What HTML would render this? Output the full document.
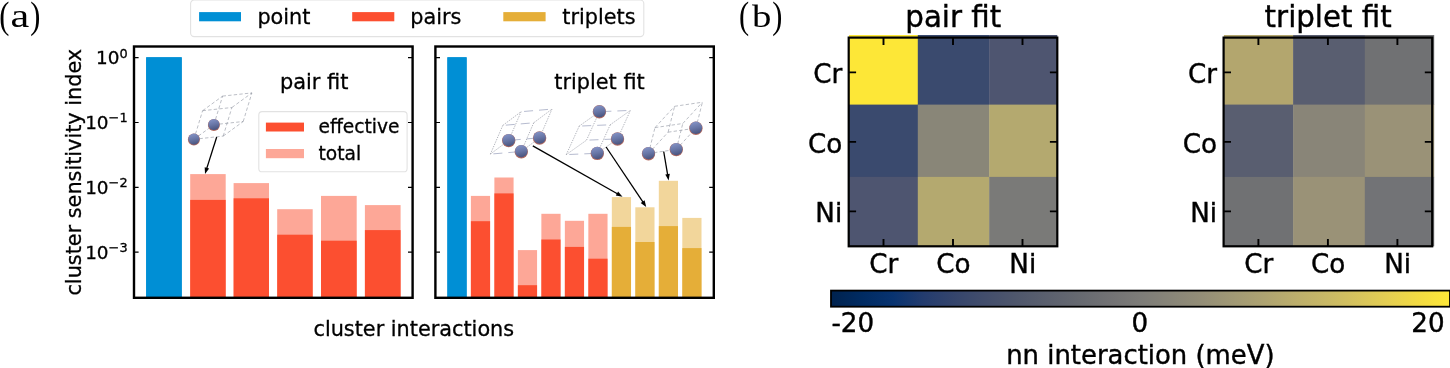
<!DOCTYPE html>
<html><head><meta charset="utf-8"><title>figure</title>
<style>html,body{margin:0;padding:0;background:#fff}svg{display:block}text{font-family:"DejaVu Sans", "Liberation Sans", sans-serif;fill:#000;stroke:#000;stroke-width:0.3px}.hb{stroke-width:0.4px}.sf{stroke:none}</style>
</head><body>
<svg width="1450" height="368" viewBox="0 0 1450 368">
<defs>
<linearGradient id="sg" x1="0.35" y1="0" x2="0.6" y2="1"><stop offset="0" stop-color="#8493c6"/><stop offset="0.5" stop-color="#6876a6"/><stop offset="1" stop-color="#48527c"/></linearGradient>
<linearGradient id="civ" x1="0" x2="1" y1="0" y2="0">
<stop offset="0.00" stop-color="rgb(0, 34, 78)"/>
<stop offset="0.05" stop-color="rgb(0, 43, 98)"/>
<stop offset="0.10" stop-color="rgb(8, 51, 112)"/>
<stop offset="0.15" stop-color="rgb(36, 60, 110)"/>
<stop offset="0.20" stop-color="rgb(53, 69, 108)"/>
<stop offset="0.25" stop-color="rgb(67, 78, 108)"/>
<stop offset="0.30" stop-color="rgb(79, 87, 108)"/>
<stop offset="0.35" stop-color="rgb(91, 96, 110)"/>
<stop offset="0.40" stop-color="rgb(102, 105, 112)"/>
<stop offset="0.45" stop-color="rgb(114, 114, 116)"/>
<stop offset="0.50" stop-color="rgb(125, 124, 120)"/>
<stop offset="0.55" stop-color="rgb(136, 133, 120)"/>
<stop offset="0.60" stop-color="rgb(148, 142, 119)"/>
<stop offset="0.65" stop-color="rgb(161, 153, 117)"/>
<stop offset="0.70" stop-color="rgb(174, 163, 113)"/>
<stop offset="0.75" stop-color="rgb(188, 174, 108)"/>
<stop offset="0.80" stop-color="rgb(200, 184, 102)"/>
<stop offset="0.85" stop-color="rgb(214, 195, 93)"/>
<stop offset="0.90" stop-color="rgb(229, 207, 82)"/>
<stop offset="0.95" stop-color="rgb(243, 219, 66)"/>
<stop offset="1.00" stop-color="rgb(254, 232, 56)"/>
</linearGradient></defs>
<rect width="1450" height="368" fill="#fff"/>
<text transform="translate(-0.63 27.9) scale(0.8 1)" x="0" y="0" font-size="38" class="sf" style="font-family:'Liberation Serif', 'DejaVu Serif', serif">(</text>
<text transform="translate(10.6 27.2) scale(1.27 1)" x="0" y="0" font-size="33.2" class="sf" style="font-family:'Liberation Serif', 'DejaVu Serif', serif">a</text>
<text transform="translate(30.2 27.9) scale(0.8 1)" x="0" y="0" font-size="38" class="sf" style="font-family:'Liberation Serif', 'DejaVu Serif', serif">)</text>
<text transform="translate(739.0 28.1) scale(0.8 1)" x="0" y="0" font-size="38" class="sf" style="font-family:'Liberation Serif', 'DejaVu Serif', serif">(</text>
<text transform="translate(752.0 27.2) scale(1.226 1)" x="0" y="0" font-size="31.6" class="sf" style="font-family:'Liberation Serif', 'DejaVu Serif', serif">b</text>
<text transform="translate(772.2 28.1) scale(0.8 1)" x="0" y="0" font-size="38" class="sf" style="font-family:'Liberation Serif', 'DejaVu Serif', serif">)</text>
<rect x="146.20" y="57.30" width="35.50" height="240.50" fill="#008fd5" />
<rect x="146.20" y="57.30" width="35.50" height="240.50" fill="#008fd5" />
<rect x="190.20" y="174.10" width="35.50" height="123.70" fill="#fda797" />
<rect x="190.20" y="199.90" width="35.50" height="97.90" fill="#fc4f30" />
<rect x="233.60" y="183.10" width="35.40" height="114.70" fill="#fda797" />
<rect x="233.60" y="198.30" width="35.40" height="99.50" fill="#fc4f30" />
<rect x="277.20" y="209.20" width="35.50" height="88.60" fill="#fda797" />
<rect x="277.20" y="234.70" width="35.50" height="63.10" fill="#fc4f30" />
<rect x="321.00" y="195.90" width="35.70" height="101.90" fill="#fda797" />
<rect x="321.00" y="240.70" width="35.70" height="57.10" fill="#fc4f30" />
<rect x="364.90" y="205.10" width="35.70" height="92.70" fill="#fda797" />
<rect x="364.90" y="230.10" width="35.70" height="67.70" fill="#fc4f30" />
<rect x="447.40" y="57.30" width="19.20" height="240.50" fill="#008fd5" />
<rect x="447.40" y="57.30" width="19.20" height="240.50" fill="#008fd5" />
<rect x="470.89" y="195.90" width="19.20" height="101.90" fill="#fda797" />
<rect x="470.89" y="221.20" width="19.20" height="76.60" fill="#fc4f30" />
<rect x="494.38" y="177.50" width="19.20" height="120.30" fill="#fda797" />
<rect x="494.38" y="193.40" width="19.20" height="104.40" fill="#fc4f30" />
<rect x="517.87" y="250.10" width="19.20" height="47.70" fill="#fda797" />
<rect x="517.87" y="285.20" width="19.20" height="12.60" fill="#fc4f30" />
<rect x="541.36" y="213.80" width="19.20" height="84.00" fill="#fda797" />
<rect x="541.36" y="239.50" width="19.20" height="58.30" fill="#fc4f30" />
<rect x="564.85" y="220.80" width="19.20" height="77.00" fill="#fda797" />
<rect x="564.85" y="246.90" width="19.20" height="50.90" fill="#fc4f30" />
<rect x="588.34" y="213.80" width="19.20" height="84.00" fill="#fda797" />
<rect x="588.34" y="258.70" width="19.20" height="39.10" fill="#fc4f30" />
<rect x="611.83" y="197.10" width="19.20" height="100.70" fill="#f2d69b" />
<rect x="611.83" y="226.90" width="19.20" height="70.90" fill="#e5ae38" />
<rect x="635.32" y="207.30" width="19.20" height="90.50" fill="#f2d69b" />
<rect x="635.32" y="242.00" width="19.20" height="55.80" fill="#e5ae38" />
<rect x="658.81" y="180.80" width="19.20" height="117.00" fill="#f2d69b" />
<rect x="658.81" y="226.10" width="19.20" height="71.70" fill="#e5ae38" />
<rect x="682.30" y="217.90" width="19.20" height="79.90" fill="#f2d69b" />
<rect x="682.30" y="248.10" width="19.20" height="49.70" fill="#e5ae38" />
<path d="M193.9 139.3L202.6 110.7M193.9 139.3L213.9 124.7M213.9 124.7L222.6 96.1M202.6 110.7L222.6 96.1M223.2 136.1L231.9 107.5M223.2 136.1L243.2 121.5M243.2 121.5L251.9 92.9M231.9 107.5L251.9 92.9M193.9 139.3L223.2 136.1M213.9 124.7L243.2 121.5M202.6 110.7L231.9 107.5M222.6 96.1L251.9 92.9" stroke="#6f7484" stroke-width="0.55" stroke-dasharray="3.4 2.2" fill="none" opacity="0.85"/>
<circle cx="193.9" cy="139.5" r="6.0" fill="#b26a60"/>
<circle cx="193.9" cy="139.1" r="5.6" fill="url(#sg)"/>
<circle cx="213.9" cy="124.9" r="6.0" fill="#b26a60"/>
<circle cx="213.9" cy="124.5" r="5.6" fill="url(#sg)"/>
<path d="M490.4 154.1L502.8 125.4M490.4 154.1L508.7 140.4M508.7 140.4L521.1 111.7M502.8 125.4L521.1 111.7M521.3 151.5L533.7 122.8M521.3 151.5L539.6 137.8M539.6 137.8L552.0 109.1M533.7 122.8L552.0 109.1" stroke="#5d6172" stroke-width="0.55" stroke-dasharray="1.3 1.2" fill="none" opacity="0.9"/>
<path d="M490.4 154.1L521.3 151.5M508.7 140.4L539.6 137.8M502.8 125.4L533.7 122.8M521.1 111.7L552.0 109.1" stroke="#8a93b2" stroke-width="0.7" stroke-dasharray="9 6" stroke-dashoffset="-3" fill="none" opacity="0.9"/>
<circle cx="508.7" cy="140.6" r="6.7" fill="#b26a60"/>
<circle cx="508.7" cy="140.2" r="6.2" fill="url(#sg)"/>
<circle cx="539.6" cy="138.0" r="6.7" fill="#b26a60"/>
<circle cx="539.6" cy="137.6" r="6.2" fill="url(#sg)"/>
<circle cx="521.3" cy="151.7" r="6.7" fill="#b26a60"/>
<circle cx="521.3" cy="151.2" r="6.2" fill="url(#sg)"/>
<path d="M566.3 154.6L579.2 126.1M566.3 154.6L586.5 140.2M586.5 140.2L599.4 111.7M579.2 126.1L599.4 111.7M597.3 153.3L610.2 124.8M597.3 153.3L617.5 138.9M617.5 138.9L630.4 110.4M610.2 124.8L630.4 110.4" stroke="#5d6172" stroke-width="0.55" stroke-dasharray="1.3 1.2" fill="none" opacity="0.9"/>
<path d="M566.3 154.6L597.3 153.3M586.5 140.2L617.5 138.9M579.2 126.1L610.2 124.8M599.4 111.7L630.4 110.4" stroke="#8a93b2" stroke-width="0.7" stroke-dasharray="9 6" stroke-dashoffset="-3" fill="none" opacity="0.9"/>
<circle cx="599.4" cy="111.8" r="6.7" fill="#b26a60"/>
<circle cx="599.4" cy="111.4" r="6.2" fill="url(#sg)"/>
<circle cx="617.5" cy="139.0" r="6.7" fill="#b26a60"/>
<circle cx="617.5" cy="138.6" r="6.2" fill="url(#sg)"/>
<circle cx="597.3" cy="153.4" r="6.7" fill="#b26a60"/>
<circle cx="597.3" cy="153.0" r="6.2" fill="url(#sg)"/>
<path d="M648.5 153.5L655.0 127.6M648.5 153.5L668.1 132.2M668.1 132.2L674.6 106.3M655.0 127.6L674.6 106.3M676.3 149.4L682.8 123.5M676.3 149.4L695.9 128.1M695.9 128.1L702.4 102.2M682.8 123.5L702.4 102.2M648.5 153.5L676.3 149.4M668.1 132.2L695.9 128.1M655.0 127.6L682.8 123.5M674.6 106.3L702.4 102.2" stroke="#6f7484" stroke-width="0.55" stroke-dasharray="3.4 2.2" fill="none" opacity="0.85"/>
<circle cx="695.9" cy="128.2" r="6.7" fill="#b26a60"/>
<circle cx="695.9" cy="127.8" r="6.2" fill="url(#sg)"/>
<circle cx="676.3" cy="149.6" r="6.7" fill="#b26a60"/>
<circle cx="676.3" cy="149.2" r="6.2" fill="url(#sg)"/>
<circle cx="648.5" cy="153.7" r="6.7" fill="#b26a60"/>
<circle cx="648.5" cy="153.2" r="6.2" fill="url(#sg)"/>
<line x1="216.7" y1="137.0" x2="206.6" y2="168.9" stroke="#000" stroke-width="1.3"/>
<polygon points="205.0,174.0 204.7,167.2 209.1,168.6" fill="#000"/>
<line x1="532.8" y1="145.9" x2="617.8" y2="194.0" stroke="#000" stroke-width="1.3"/>
<polygon points="622.5,196.7 615.8,195.5 618.1,191.5" fill="#000"/>
<line x1="606.1" y1="147.0" x2="643.2" y2="202.4" stroke="#000" stroke-width="1.3"/>
<polygon points="646.2,206.9 640.7,202.9 644.6,200.3" fill="#000"/>
<line x1="663.7" y1="151.5" x2="667.7" y2="175.1" stroke="#000" stroke-width="1.3"/>
<polygon points="668.6,180.4 665.3,174.5 669.8,173.7" fill="#000"/>
<rect x="134.0" y="46.5" width="278.60" height="251.30" fill="none" stroke="#000" stroke-width="2.4"/>
<path d="M134.0 57.7h4.6M412.6 57.7h-4.6" stroke="#000" stroke-width="1.2" fill="none"/>
<path d="M134.0 122.5h4.6M412.6 122.5h-4.6" stroke="#000" stroke-width="1.2" fill="none"/>
<path d="M134.0 187.3h4.6M412.6 187.3h-4.6" stroke="#000" stroke-width="1.2" fill="none"/>
<path d="M134.0 252.1h4.6M412.6 252.1h-4.6" stroke="#000" stroke-width="1.2" fill="none"/>
<rect x="435.4" y="46.5" width="278.40" height="251.30" fill="none" stroke="#000" stroke-width="2.4"/>
<path d="M435.4 57.7h4.6M713.8 57.7h-4.6" stroke="#000" stroke-width="1.2" fill="none"/>
<path d="M435.4 122.5h4.6M713.8 122.5h-4.6" stroke="#000" stroke-width="1.2" fill="none"/>
<path d="M435.4 187.3h4.6M713.8 187.3h-4.6" stroke="#000" stroke-width="1.2" fill="none"/>
<path d="M435.4 252.1h4.6M713.8 252.1h-4.6" stroke="#000" stroke-width="1.2" fill="none"/>
<text x="127.6" y="64.1" font-size="18.4" text-anchor="end">10<tspan font-size="12.9" dy="-6.6">0</tspan></text>
<text x="127.6" y="128.9" font-size="18.4" text-anchor="end">10<tspan font-size="12.9" dy="-6.6">−1</tspan></text>
<text x="127.6" y="193.7" font-size="18.4" text-anchor="end">10<tspan font-size="12.9" dy="-6.6">−2</tspan></text>
<text x="127.6" y="258.5" font-size="18.4" text-anchor="end">10<tspan font-size="12.9" dy="-6.6">−3</tspan></text>
<text transform="translate(80.6 172.2) rotate(-90)" font-size="20.8" text-anchor="middle">cluster sensitivity index</text>
<text x="413.8" y="335.6" font-size="20.8" text-anchor="middle">cluster interactions</text>
<text x="314.2" y="89.4" font-size="20.9" text-anchor="middle">pair fit</text>
<text x="599.5" y="89.4" font-size="20.8" text-anchor="middle">triplet fit</text>
<rect x="190.6" y="0.0" width="453.2" height="36.6" rx="3.6" fill="#fff" stroke="#e2e2e2" stroke-width="1.1"/>
<rect x="199.10" y="12.10" width="41.90" height="9.20" fill="#008fd5" />
<rect x="352.20" y="12.10" width="42.10" height="9.20" fill="#fc4f30" />
<rect x="503.30" y="12.10" width="42.30" height="9.20" fill="#e5ae38" />
<text x="257.4" y="24.2" font-size="20.8">point</text>
<text x="410.3" y="24.2" font-size="20.8">pairs</text>
<text x="562.3" y="24.2" font-size="20.8">triplets</text>
<rect x="258.8" y="111.6" width="148.3" height="60.2" rx="3.4" fill="#fff" fill-opacity="0.8" stroke="#e2e2e2" stroke-width="1.1"/>
<rect x="265.90" y="122.60" width="38.10" height="8.90" fill="#fc4f30" />
<rect x="265.90" y="149.00" width="38.10" height="9.20" fill="#fda797" />
<text x="318.5" y="133.2" font-size="18.65">effective</text>
<text x="318.5" y="160.2" font-size="18.65">total</text>
<rect x="849.00" y="35.00" width="69.20" height="70.00" fill="#fde737" />
<rect x="917.80" y="35.00" width="71.80" height="70.00" fill="#3a4a6e" />
<rect x="989.20" y="35.00" width="68.10" height="70.00" fill="#4e5570" />
<rect x="849.00" y="104.60" width="69.20" height="72.70" fill="#3a4a6e" />
<rect x="917.80" y="104.60" width="71.80" height="72.70" fill="#898678" />
<rect x="989.20" y="104.60" width="68.10" height="72.70" fill="#b4a96f" />
<rect x="849.00" y="176.90" width="69.20" height="69.40" fill="#4e5570" />
<rect x="917.80" y="176.90" width="71.80" height="69.40" fill="#b4a96f" />
<rect x="989.20" y="176.90" width="68.10" height="69.40" fill="#7a7a78" />
<rect x="848.7" y="37.6" width="208.60" height="208.70" fill="none" stroke="#000" stroke-width="2.2"/>
<path d="M883.5 37.6v7.4M883.5 246.3v-7.4M848.7 72.4h7.4M1057.3 72.4h-7.4" stroke="#000" stroke-width="1.9" fill="none"/>
<text x="883.8" y="272.5" font-size="26.2" text-anchor="middle" class="hb">Cr</text>
<text x="842.2" y="83.2" font-size="26.2" text-anchor="end" class="hb">Cr</text>
<path d="M953.0 37.6v7.4M953.0 246.3v-7.4M848.7 141.9h7.4M1057.3 141.9h-7.4" stroke="#000" stroke-width="1.9" fill="none"/>
<text x="953.3" y="272.5" font-size="26.2" text-anchor="middle" class="hb">Co</text>
<text x="842.2" y="152.7" font-size="26.2" text-anchor="end" class="hb">Co</text>
<path d="M1022.5 37.6v7.4M1022.5 246.3v-7.4M848.7 211.4h7.4M1057.3 211.4h-7.4" stroke="#000" stroke-width="1.9" fill="none"/>
<text x="1022.8" y="272.5" font-size="26.2" text-anchor="middle" class="hb">Ni</text>
<text x="842.2" y="222.2" font-size="26.2" text-anchor="end" class="hb">Ni</text>
<text x="953.3" y="27.0" font-size="29.3" text-anchor="middle" class="hb">pair fit</text>
<rect x="1223.90" y="35.00" width="69.60" height="70.00" fill="#b3a66e" />
<rect x="1293.10" y="35.00" width="72.10" height="70.00" fill="#595e70" />
<rect x="1364.80" y="35.00" width="69.40" height="70.00" fill="#707173" />
<rect x="1223.90" y="104.60" width="69.60" height="72.70" fill="#595e70" />
<rect x="1293.10" y="104.60" width="72.10" height="72.70" fill="#898578" />
<rect x="1364.80" y="104.60" width="69.40" height="72.70" fill="#9a9277" />
<rect x="1223.90" y="176.90" width="69.60" height="69.40" fill="#707173" />
<rect x="1293.10" y="176.90" width="72.10" height="69.40" fill="#9a9277" />
<rect x="1364.80" y="176.90" width="69.40" height="69.40" fill="#727376" />
<rect x="1223.6" y="37.6" width="208.60" height="208.70" fill="none" stroke="#000" stroke-width="2.2"/>
<path d="M1258.4 37.6v7.4M1258.4 246.3v-7.4M1223.6 72.4h7.4M1432.2 72.4h-7.4" stroke="#000" stroke-width="1.9" fill="none"/>
<text x="1258.7" y="272.5" font-size="26.2" text-anchor="middle" class="hb">Cr</text>
<text x="1217.1" y="83.2" font-size="26.2" text-anchor="end" class="hb">Cr</text>
<path d="M1327.9 37.6v7.4M1327.9 246.3v-7.4M1223.6 141.9h7.4M1432.2 141.9h-7.4" stroke="#000" stroke-width="1.9" fill="none"/>
<text x="1328.2" y="272.5" font-size="26.2" text-anchor="middle" class="hb">Co</text>
<text x="1217.1" y="152.7" font-size="26.2" text-anchor="end" class="hb">Co</text>
<path d="M1397.4 37.6v7.4M1397.4 246.3v-7.4M1223.6 211.4h7.4M1432.2 211.4h-7.4" stroke="#000" stroke-width="1.9" fill="none"/>
<text x="1397.7" y="272.5" font-size="26.2" text-anchor="middle" class="hb">Ni</text>
<text x="1217.1" y="222.2" font-size="26.2" text-anchor="end" class="hb">Ni</text>
<text x="1328.2" y="27.0" font-size="29.3" text-anchor="middle" class="hb">triplet fit</text>
<rect x="831.0" y="290.6" width="619.0" height="16.1" fill="url(#civ)" stroke="#000" stroke-width="1.8"/>
<text x="831.4" y="332.3" font-size="26.2" class="hb">-20</text>
<text x="1139.9" y="332.3" font-size="26.2" text-anchor="middle" class="hb">0</text>
<text x="1444.6" y="332.3" font-size="26.2" text-anchor="end" class="hb">20</text>
<text x="1140.4" y="364.0" font-size="25.9" text-anchor="middle" class="hb">nn interaction (meV)</text>
</svg></body></html>
